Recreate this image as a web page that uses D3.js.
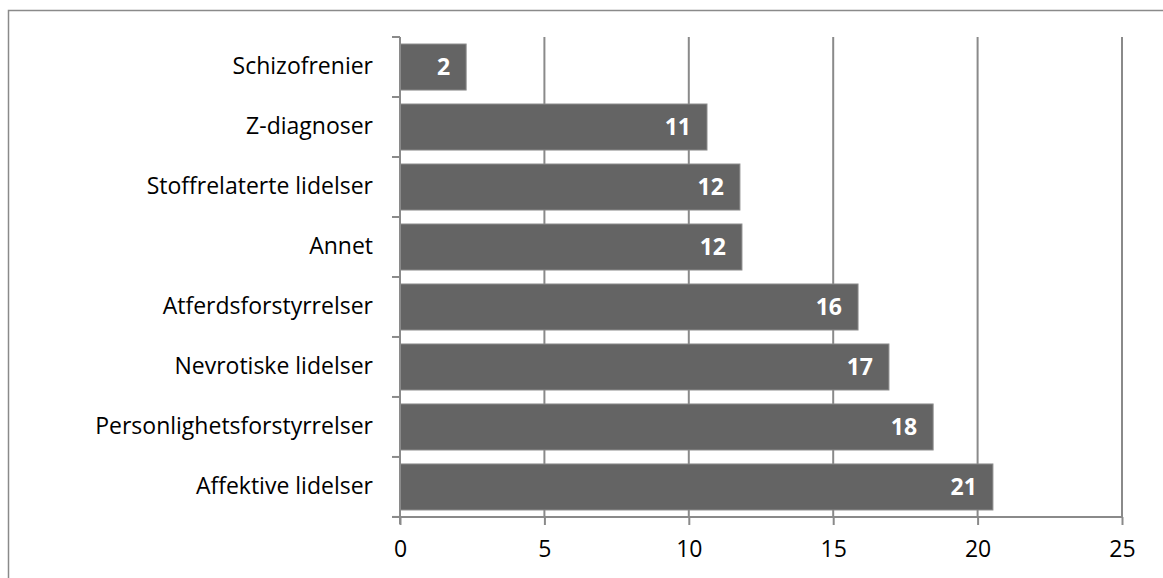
<!DOCTYPE html>
<html>
<head>
<meta charset="utf-8">
<script src="https://cdn.jsdelivr.net/npm/d3@7"></script>
<style>
  body { margin: 0; background: #fff; }
  svg { display: block; font-family: "Open Sans", sans-serif; }
</style>
</head>
<body>
<svg width="1163" height="578"></svg>
<script>
// categories top to bottom
var categories = ['Schizofrenier', 'Z-diagnoser', 'Stoffrelaterte lidelser', 'Annet',
                  'Atferdsforstyrrelser', 'Nevrotiske lidelser', 'Personlighetsforstyrrelser', 'Affektive lidelser']
var values = [2.29, 10.63, 11.77, 11.84, 15.86, 16.93, 18.46, 20.53]
var valueLabels = ['2', '11', '12', '12', '16', '17', '18', '21']
var xTicks = [0, 5, 10, 15, 20, 25]

var plotLeft = 400, plotRight = 1122, plotTop = 37, plotBottom = 517

var svg = d3.select('svg')

// outer chart border
svg.append('rect')
  .attr('x', 8.5).attr('y', 10.5)
  .attr('width', 1170).attr('height', 600)
  .attr('fill', 'none')
  .attr('stroke', '#8a8a8a')
  .attr('stroke-width', 1.5)

var xScale = d3.scaleLinear()
  .domain([0, 25])
  .range([plotLeft, plotRight])

var yScale = d3.scaleBand()
  .domain(categories)
  .range([plotTop, plotBottom])
  .paddingInner(0.233)
  .paddingOuter(0.117)

// gridlines
svg.append('g')
  .selectAll('line')
  .data(xTicks.slice(1))
  .enter()
  .append('line')
    .attr('x1', d => xScale(d)).attr('x2', d => xScale(d))
    .attr('y1', plotTop).attr('y2', plotBottom)
    .attr('stroke', '#8a8a8a')
    .attr('stroke-width', 2)

// bars
svg.append('g')
  .selectAll('rect')
  .data(values)
  .enter()
  .append('rect')
    .attr('x', xScale(0))
    .attr('y', (d, i) => yScale(categories[i]))
    .attr('width', d => xScale(d) - xScale(0))
    .attr('height', yScale.bandwidth())
    .attr('fill', '#646464')
    .attr('stroke', '#8c8c8c')
    .attr('stroke-width', 1)

// value labels
svg.append('g')
  .selectAll('text')
  .data(values)
  .enter()
  .append('text')
    .attr('x', d => xScale(d) - 16)
    .attr('y', (d, i) => yScale(categories[i]) + yScale.bandwidth() / 2)
    .attr('dy', '0.34em')
    .attr('text-anchor', 'end')
    .attr('fill', '#fff')
    .attr('font-weight', 'bold')
    .attr('font-size', 23)
    .text((d, i) => valueLabels[i])

// x axis
var xAxis = svg.append('g')
  .attr('transform', 'translate(0,' + plotBottom + ')')
  .call(d3.axisBottom(xScale).tickValues(xTicks).tickSize(8).tickPadding(16).tickSizeOuter(0))
xAxis.select('.domain').attr('stroke', '#8a8a8a').attr('stroke-width', 2)
  .attr('d', 'M' + (plotLeft - 8) + ',0H' + plotRight)
xAxis.selectAll('line').attr('stroke', '#8a8a8a').attr('stroke-width', 2)
xAxis.selectAll('text').attr('font-size', 23).attr('fill', '#000')
  .attr('font-family', '"Open Sans", sans-serif')

// y axis (category boundaries as ticks)
var yAxis = svg.append('g')
  .attr('transform', 'translate(' + plotLeft + ',0)')
yAxis.append('line')
  .attr('x1', 0).attr('x2', 0)
  .attr('y1', plotTop).attr('y2', plotBottom + 7)
  .attr('stroke', '#8a8a8a').attr('stroke-width', 2)
yAxis.selectAll('.bound')
  .data(d3.range(categories.length + 1))
  .enter()
  .append('line')
    .attr('x1', -8).attr('x2', 0)
    .attr('y1', i => plotTop + i * yScale.step())
    .attr('y2', i => plotTop + i * yScale.step())
    .attr('stroke', '#8a8a8a').attr('stroke-width', 2)
yAxis.selectAll('.label')
  .data(categories)
  .enter()
  .append('text')
    .attr('x', -27)
    .attr('y', d => yScale(d) + yScale.bandwidth() / 2)
    .attr('dy', '0.3em')
    .attr('text-anchor', 'end')
    .attr('font-size', 23)
    .attr('fill', '#000')
    .text(d => d)
</script>
</body>
</html>
